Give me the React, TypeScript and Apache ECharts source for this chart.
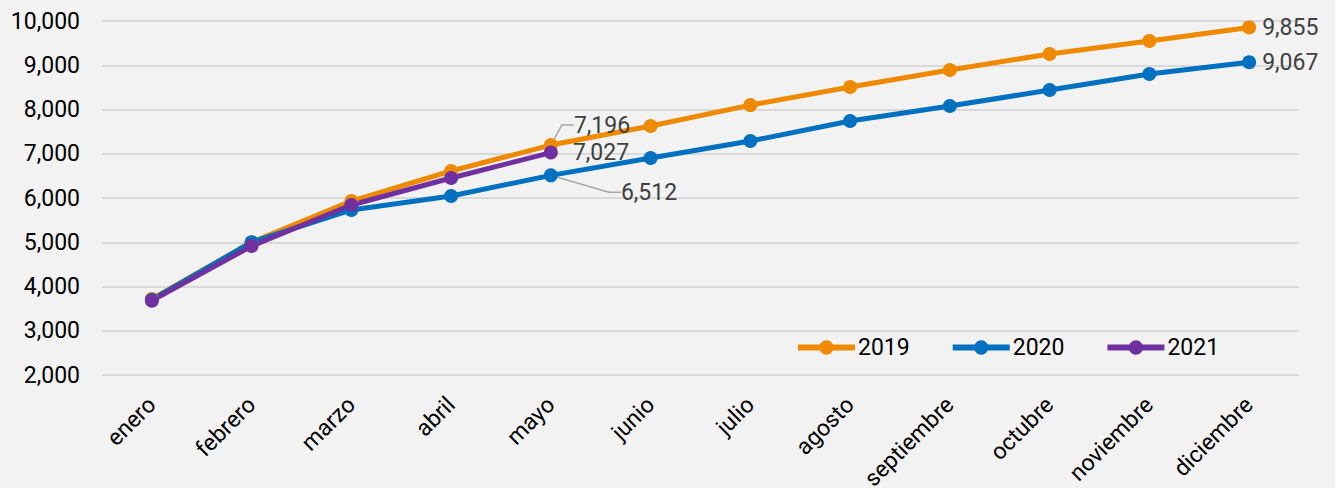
import React, { useEffect, useRef } from "react";
import * as echarts from "echarts";

const months = [
  "enero", "febrero", "marzo", "abril", "mayo", "junio",
  "julio", "agosto", "septiembre", "octubre", "noviembre", "diciembre",
];
const values2019 = [3720, 5000, 5930, 6610, 7196, 7627, 8100, 8508, 8893, 9254, 9548, 9855];
const values2020 = [3700, 5000, 5729, 6045, 6512, 6904, 7288, 7740, 8079, 8440, 8802, 9067];
const values2021 = [3680, 4915, 5842, 6452, 7027];
const yTicks = { min: 2000, max: 10000, interval: 1000 };

const fmt = (v: number) => v.toLocaleString("en-US");

const FONT = "Roboto";

function labelFor(distance: number, padLeft = 0) {
  return {
    show: true,
    position: "right" as const,
    distance,
    fontSize: 23,
    color: "#404040",
    fontFamily: FONT,
    padding: [0, 0, 0, padLeft],
    formatter: (p: any) => fmt(p.value),
  };
}

function withLabels(values: number[], labels: Record<number, { d: number; pad?: number; guide?: boolean }>) {
  return values.map((v, i) => {
    const cfg = labels[i];
    if (!cfg) return v;
    const item: any = { value: v, label: labelFor(cfg.d, cfg.pad || 0) };
    if (cfg.guide) {
      item.labelLine = { show: true, length2: 12, smooth: false, lineStyle: { color: "#a6a6a6", width: 1.5 } };
    }
    return item;
  });
}

export default function App() {
  const ref = useRef<HTMLDivElement>(null);
  useEffect(() => {
    document.body.style.margin = "0";
    const chart = echarts.init(ref.current!, null, { renderer: "svg" });
    const lineSeries = (name: string, data: any[], color: string, layout?: any) => ({
      name,
      type: "line",
      data,
      symbol: "circle",
      symbolSize: 14,
      lineStyle: { color, width: 5 },
      itemStyle: { color },
      labelLayout: layout,
      labelLine: { show: false, smooth: false },
    });
    chart.setOption({
      animation: false,
      backgroundColor: "#f2f2f2",
      textStyle: { fontFamily: FONT },
      grid: { left: 102, right: 36, top: 21, bottom: 113, containLabel: false, outerBoundsMode: "none" },
      legend: {
        left: 790,
        top: 331,
        itemWidth: 57,
        itemHeight: 18,
        itemGap: 40,
        lineStyle: { width: 6 },
        textStyle: { fontSize: 23, color: "#000", fontFamily: FONT, padding: [0, 0, 0, -2] },
        data: ["2019", "2020", "2021"],
      },
      xAxis: {
        type: "category",
        data: months,
        boundaryGap: true,
        axisLine: { show: false },
        axisTick: { show: false },
        axisLabel: { rotate: 45, fontSize: 23, color: "#000", margin: 26, fontFamily: FONT, interval: 0 },
      },
      yAxis: {
        type: "value",
        min: yTicks.min,
        max: yTicks.max,
        interval: yTicks.interval,
        axisLine: { show: false },
        axisTick: { show: false },
        axisLabel: { fontSize: 23, color: "#000", margin: 22, fontFamily: FONT, formatter: (v: number) => fmt(v) },
        splitLine: { lineStyle: { color: "#d9d9d9", width: 2 } },
      },
      series: [
        lineSeries("2019", withLabels(values2019, { 4: { d: 8, pad: 8, guide: true }, 11: { d: 6 } }), "#ef8a00", (p: any) =>
          p.dataIndex === 4 ? { dx: 0, dy: -20 } : {}
        ),
        lineSeries("2020", withLabels(values2020, { 4: { d: 8, pad: 8, guide: true }, 11: { d: 6 } }), "#0070c0", (p: any) =>
          p.dataIndex === 4 ? { dx: 47, dy: 17 } : {}
        ),
        lineSeries("2021", withLabels(values2021, { 4: { d: 15 } }), "#7030a0"),
      ],
    });
    return () => chart.dispose();
  }, []);
  return <div ref={ref} style={{ width: 1335, height: 488 }} />;
}
